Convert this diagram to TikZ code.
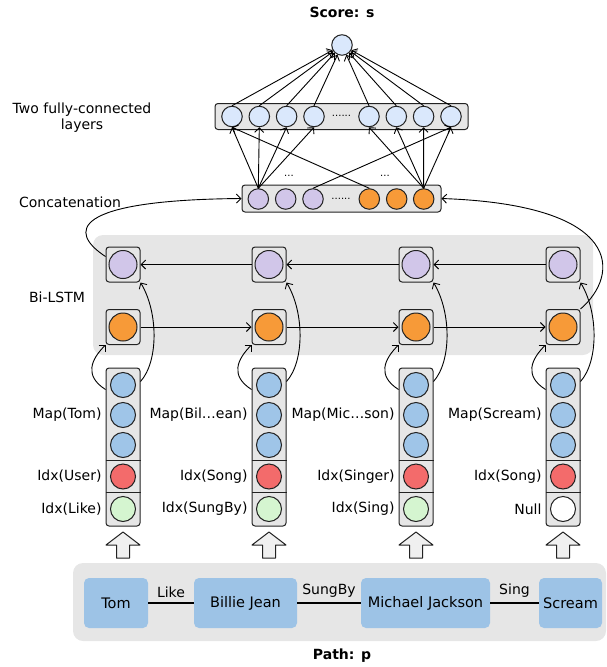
\documentclass[tikz,border=0pt]{standalone}
\usepackage{fontspec}
\setmainfont{DejaVu Sans}
\usetikzlibrary{positioning, arrows.meta}

\definecolor{boxgray}{HTML}{E6E6E6}
\definecolor{fcblue}{HTML}{DAE8FC}
\definecolor{lstmpurple}{HTML}{D1C6E9}
\definecolor{lstmorange}{HTML}{F79A38}
\definecolor{mapblue}{HTML}{9FC5E8}
\definecolor{idxred}{HTML}{F36B6B}
\definecolor{idxgreen}{HTML}{D5F5D0}
\definecolor{entblue}{HTML}{9DC3E6}
\definecolor{linegray}{HTML}{222222}

\begin{document}
\begin{tikzpicture}[x=1pt, y=-1pt, >={Straight Barb[length=4.5pt,width=9pt]},
    font=\fontsize{14}{16}\selectfont,
    unit/.style={circle, draw=linegray, line width=1pt, minimum size=20.5pt, inner sep=0pt},
    cell/.style={draw=linegray, line width=1pt, fill=boxgray, rounded corners=3pt,
        minimum width=34pt, minimum height=35pt, inner sep=0pt},
    stack/.style={cell, minimum height=158pt},
    layer/.style={cell, minimum height=26pt},
    ent/.style={fill=entblue, rounded corners=5pt, minimum height=50pt, inner sep=0pt,
        font=\fontsize{14.5}{16}\selectfont},
    rel/.style={line width=2pt},
    link/.style={->, line width=0.9pt},
    hollow/.style={draw=linegray, line width=1pt, fill=boxgray!60, line join=round},
    title/.style={font=\fontsize{14}{16}\selectfont\bfseries}]
            \useasboundingbox (0,0) rectangle (607,667);

            % Score and the two fully-connected layers
            \node[title] (score label) at (342,12) {Score: s};
            \node[unit, fill=fcblue] (score) at (342,45) {};
            \node[layer, minimum width=253pt] (fc) at (341.5,116.5) {};
            \foreach \n/\x in {1/232, 2/259.3, 3/286.6, 4/314, 5/369, 6/396.3, 7/423.6, 8/451}
                \node[unit, fill=fcblue] (f\n) at (\x,116.5) {};
            \node[font=\fontsize{10}{10}\selectfont] (fc dots) at (341.5,116) {......};
            \node[align=center] (fc label) at (82,118) {Two fully-connected\\layers};

            % Concatenation
            \node[layer, minimum width=199pt, minimum height=27pt] (cat) at (341.5,198.5) {};
            \foreach \n/\x/\c in {1/258.3/lstmpurple, 2/285.7/lstmpurple, 3/313/lstmpurple,
                                  4/369.3/lstmorange, 5/396.7/lstmorange, 6/423.7/lstmorange}
                \node[unit, fill=\c] (c\n) at (\x,199) {};
            \node[font=\fontsize{10}{10}\selectfont] (cat dots) at (341,199) {......};
            \node[font=\fontsize{10}{10}\selectfont] (purple dots) at (289,176) {...};
            \node[font=\fontsize{10}{10}\selectfont] (orange dots) at (385,176) {...};
            \node (cat label) at (70,202) {Concatenation};

            \foreach \n in {1,...,4} \draw[link] (c1.north) -- (f\n.south);
            \foreach \n in {5,...,8} \draw[link] (c6.north) -- (f\n.south);
            \draw[link] (c4.north) -- (f1.south);
            \draw[link] (c3.north) -- (f8.south);
            \foreach \n in {1,...,8} \draw[link] (f\n.north) -- (score);

            % Bi-LSTM
            \node[fill=boxgray, rounded corners=10pt, minimum width=500pt, minimum height=120pt]
                (bilstm) at (343,295) {};
            \node (bilstm label) at (57,297) {Bi-LSTM};

            % one column per node of the path
            \foreach \i/\x/\mp/\ia/\ib/\gc in {1/123/Map(Tom)/Idx(User)/Idx(Like)/idxgreen,
                    2/269/Map(Bil\ldots ean)/Idx(Song)/Idx(SungBy)/idxgreen,
                    3/416/Map(Mic\ldots son)/Idx(Singer)/Idx(Sing)/idxgreen,
                    4/563/Map(Scream)/Idx(Song)/Null/white} {
                \node[cell] (p\i) at (\x,264.5) {};
                \node[unit, fill=lstmpurple, minimum size=28pt] (pc\i) at (p\i) {};
                \node[cell] (o\i) at (\x,327) {};
                \node[unit, fill=lstmorange, minimum size=28pt] (oc\i) at (o\i) {};

                \node[stack] (s\i) at (\x,447) {};
                \draw[line width=1pt, linegray] (s\i.west |- 0,460) -- (s\i.east |- 0,460)
                    (s\i.west |- 0,492) -- (s\i.east |- 0,492);
                \node[unit, fill=mapblue, minimum size=25pt] (ma\i) at (\x,385) {};
                \node[unit, fill=mapblue, minimum size=25pt] (mb\i) at (\x,415) {};
                \node[unit, fill=mapblue, minimum size=25pt] (mc\i) at (\x,445) {};
                \node[unit, fill=idxred, minimum size=25pt] (r\i) at (\x,476.5) {};
                \node[unit, fill=\gc, minimum size=25pt] (g\i) at (\x,509) {};
                \node[left=5pt of mb\i] (map\i) {\mp};
                \node[left=5pt of r\i] (idxa\i) {\ia};
                \node[left=5pt of g\i] (idxb\i) {\ib};

                \draw[link] ([yshift=-22pt]s\i.north west) .. controls +(-22,-14) and +(-14,14) .. (o\i.south west);
                \draw[link] ([yshift=-14pt]s\i.north east) .. controls +(18,-20) and +(18,30) .. (p\i.south east);

                \draw[hollow] (\x,532) -- (\x+17,545) -- (\x+6.5,545) -- (\x+6.5,558)
                    -- (\x-6.5,558) -- (\x-6.5,545) -- (\x-17,545) -- cycle;
            }

            \foreach \a/\b in {1/2, 2/3, 3/4} {
                \draw[link] (o\a.east) -- (o\b.west);
                \draw[link] (p\b.west) -- (p\a.east);
            }
            \draw[link] ([yshift=-10pt]p1.north west) .. controls (68,232) and (70,200) .. (cat.west);
            \draw[link] (o4.north east) .. controls (620,275) and (625,205) .. (cat.east);

            % Path
            \node[fill=boxgray, rounded corners=10pt, minimum width=533pt, minimum height=78pt]
                (path box) at (339.5,602) {};
            \node[ent, minimum width=64pt] (tom) at (116,603) {Tom};
            \node[ent, minimum width=103pt] (billie) at (245.5,603) {Billie Jean};
            \node[ent, minimum width=129pt] (michael) at (425.5,603) {Michael Jackson};
            \node[ent, minimum width=63pt] (scream) at (570.5,603) {Scream};
            \draw[rel] (tom) -- node[above=1pt] {Like} (billie);
            \draw[rel] (billie) -- node[above=1pt] {SungBy} (michael);
            \draw[rel] (michael) -- node[above=1pt] {Sing} (scream);
            \node[title] (path label) at (342,656) {Path: p};
        \end{tikzpicture}
\end{document}
